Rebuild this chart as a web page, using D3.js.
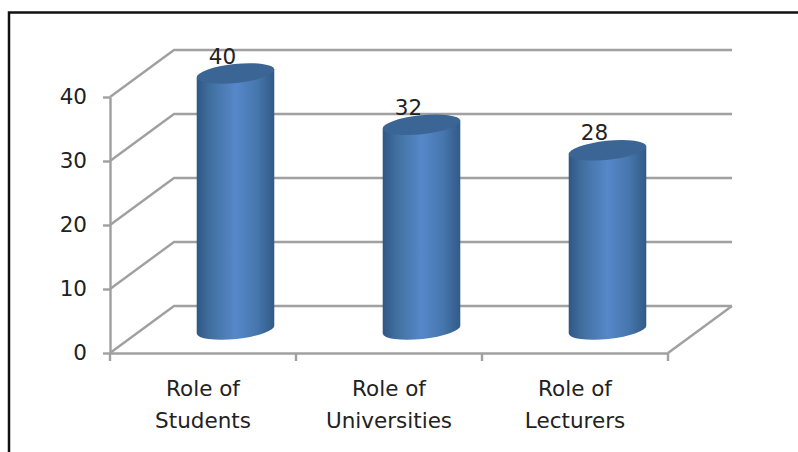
<!DOCTYPE html>
<html>
<head>
<meta charset="utf-8">
<script src="https://cdn.jsdelivr.net/npm/d3@7"></script>
<style>
  html, body { margin: 0; padding: 0; background: #fff; }
  svg { display: block; }
  text { font-family: "DejaVu Sans", sans-serif; fill: #222; }
</style>
</head>
<body>
<svg id="chart" width="798" height="452"></svg>
<script>
const categories = ["Role of Students", "Role of Universities", "Role of Lecturers"];
const values = [40, 32, 28];
const yTicks = [0, 10, 20, 30, 40];

const width = 798, height = 452;
const margin = { left: 110, right: 130, top: 97, bottom: 99 };
// depth of the 3d floor
const depthX = 64, depthY = -47;
const cylRx = 39, cylRy = 9.5, cylTilt = -6;

const svg = d3.select("#chart");

const x = d3.scaleBand()
  .domain(categories)
  .range([margin.left, width - margin.right]);

const y = d3.scaleLinear()
  .domain([0, 40])
  .range([height - margin.bottom, margin.top]);

// gradient for cylinder side
const defs = svg.append("defs");
const grad = defs.append("linearGradient").attr("id", "side");
[[0, "#2f5786"], [0.18, "#41709f"], [0.5, "#5688ca"], [0.78, "#4676ad"], [1, "#315a86"]].forEach((s) =>
  grad.append("stop").attr("offset", s[0]).attr("stop-color", s[1])
);

// frame, runs off the right and bottom edge
svg.append("path")
  .attr("d", "M9,452V12.5H798")
  .attr("fill", "none")
  .attr("stroke", "#111")
  .attr("stroke-width", 2.5);

const gridColor = "#a0a0a0";
const gGrid = svg.append("g").attr("fill", "none").attr("stroke", gridColor).attr("stroke-width", 2.4);

// walls: slanted line plus back line for each tick
const x0 = x.range()[0], x1 = x.range()[1];
gGrid.selectAll("path.grid")
  .data(yTicks)
  .join("path")
  .attr("class", "grid")
  .attr("d", (d) => d3.line()([[x0, y(d)], [x0 + depthX, y(d) + depthY], [x1 + depthX, y(d) + depthY]]));

// right edge of floor
gGrid.append("path").attr("d", d3.line()([[x1, y(0)], [x1 + depthX, y(0) + depthY]]));

// axes
const yAxis = d3.axisLeft(y).tickValues(yTicks).tickSize(7).tickPadding(16).tickSizeOuter(0);
const gY = svg.append("g").attr("transform", "translate(" + x0 + ",0)").call(yAxis);

const xAxis = d3.axisBottom(x).tickSize(0).tickSizeOuter(0).tickFormat("");
const gX = svg.append("g").attr("transform", "translate(0," + y(0) + ")").call(xAxis);

// ticks sit between the categories
gX.selectAll("line.sep")
  .data([x0, ...categories.map((c) => x(c) + x.bandwidth())])
  .join("line")
  .attr("class", "sep")
  .attr("x1", (d) => d)
  .attr("x2", (d) => d)
  .attr("y1", 0)
  .attr("y2", 8);

svg.selectAll(".domain, .tick line, line.sep").attr("stroke", gridColor).attr("stroke-width", 2.4);
gY.selectAll("text").style("font-family", '"DejaVu Sans", sans-serif').style("font-size", "21.5px");

// category labels, two lines each
const gLabels = svg.append("g");
categories.forEach((c) => {
  const words = c.split(" ");
  const lines = [words.slice(0, -1).join(" "), words[words.length - 1]];
  lines.forEach((l, i) => {
    gLabels.append("text")
      .attr("x", x(c) + x.bandwidth() / 2)
      .attr("y", y(0) + 43 + i * 32)
      .attr("text-anchor", "middle")
      .style("font-size", "21.5px")
      .text(l);
  });
});

// cylinders
const tiltRad = (cylTilt * Math.PI) / 180;
const ex = cylRx * Math.cos(tiltRad), ey = cylRx * Math.sin(tiltRad);
const cylCx = (c) => x(c) + x.bandwidth() / 2 + depthX / 2 + 0.5;
const baseY = y(0) + depthY / 2;
const valueTop = (v) => y(v) + depthY / 2;

const gBars = svg.selectAll("g.cyl")
  .data(categories.map((c, i) => ({ c, v: values[i] })))
  .join("g")
  .attr("class", "cyl")
  .attr("transform", (d) => "translate(" + cylCx(d.c) + ",0)");

gBars.append("path")
  .attr("d", (d) => {
    const t = valueTop(d.v);
    return "M" + -ex + "," + (t - ey) +
      "L" + -ex + "," + (baseY - ey) +
      "A" + cylRx + "," + cylRy + " " + cylTilt + " 0 0 " + ex + "," + (baseY + ey) +
      "L" + ex + "," + (t + ey) + "Z";
  })
  .attr("fill", "url(#side)");

gBars.append("ellipse")
  .attr("rx", cylRx)
  .attr("ry", cylRy)
  .attr("transform", (d) => "translate(0," + valueTop(d.v) + ") rotate(" + cylTilt + ")")
  .attr("fill", "#3b6594");

// value labels
gBars.append("text")
  .attr("x", -13)
  .attr("y", (d) => valueTop(d.v) - 10)
  .attr("text-anchor", "middle")
  .style("font-size", "21.5px")
  .text((d) => d.v);
</script>
</body>
</html>
